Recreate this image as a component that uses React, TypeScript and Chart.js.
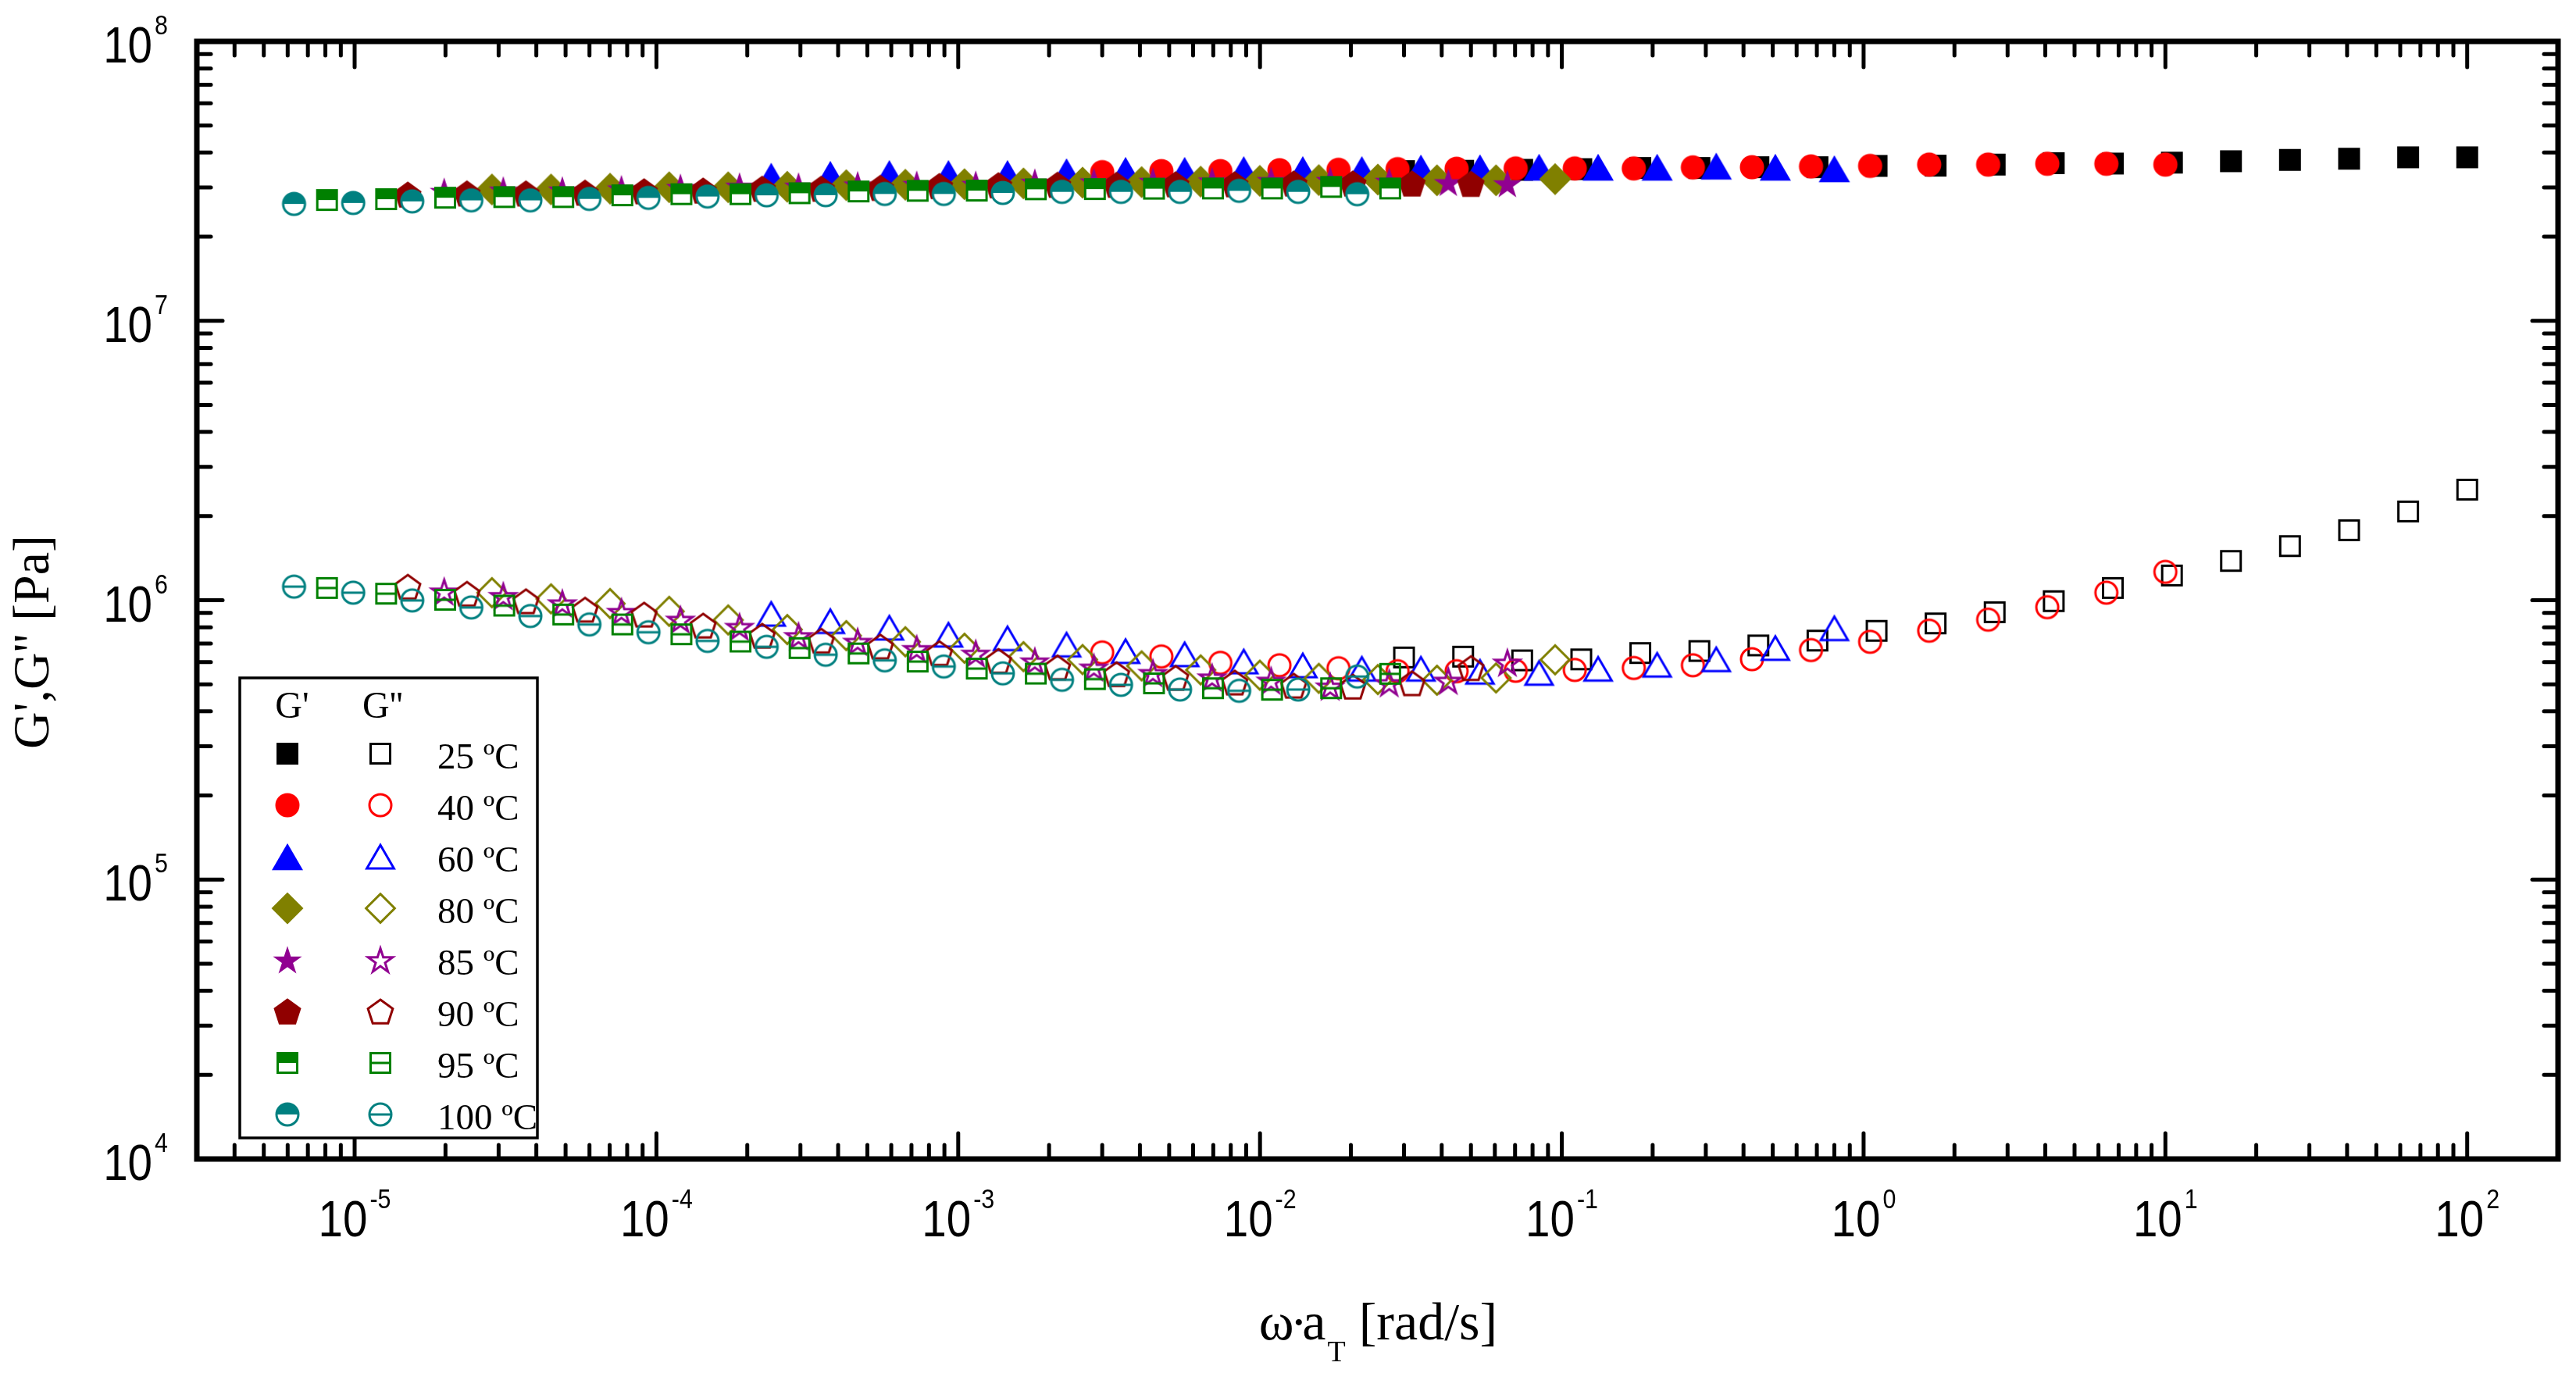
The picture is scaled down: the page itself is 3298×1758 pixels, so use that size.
import React, { useEffect, useRef } from "react";
import { Chart, registerables } from "chart.js";

Chart.register(...registerables);

// angular frequency of the sweep in rad/s, the same 19 points at every temperature
const omega = [0.03, 0.0471, 0.0739, 0.116, 0.182, 0.2856, 0.4481, 0.7033, 1.104, 1.732, 2.718, 4.266, 6.694, 10.51, 16.49, 25.87, 40.61, 63.73, 100];

const temperatures = [25, 40, 60, 80, 85, 90, 95, 100];
// horizontal shift factor a_T (reference 25 ºC)
const shiftFactors = [1, 0.1, 8.0e-3, 9.5e-4, 6.6e-4, 5.0e-4, 2.7e-4, 2.1e-4];

// G' (storage modulus) in Pa, low to high frequency
const gp25 = [3.434e7, 3.443e7, 3.471e7, 3.491e7, 3.523e7, 3.523e7, 3.546e7, 3.546e7, 3.585e7, 3.592e7, 3.624e7, 3.666e7, 3.654e7, 3.683e7, 3.726e7, 3.767e7, 3.803e7, 3.847e7, 3.847e7];
const gp40 = [3.405e7, 3.434e7, 3.434e7, 3.46e7, 3.471e7, 3.491e7, 3.5e7, 3.51e7, 3.51e7, 3.51e7, 3.54e7, 3.546e7, 3.569e7, 3.585e7, 3.624e7, 3.624e7, 3.648e7, 3.648e7, 3.624e7];
const gp60 = [3.293e7, 3.344e7, 3.366e7, 3.366e7, 3.366e7, 3.416e7, 3.454e7, 3.454e7, 3.476e7, 3.476e7, 3.476e7, 3.521e7, 3.528e7, 3.546e7, 3.546e7, 3.546e7, 3.578e7, 3.546e7, 3.5e7];
const gp80 = [2.952e7, 2.952e7, 2.971e7, 3.005e7, 3.005e7, 3.018e7, 3.057e7, 3.069e7, 3.082e7, 3.102e7, 3.122e7, 3.136e7, 3.148e7, 3.168e7, 3.189e7, 3.203e7, 3.183e7, 3.183e7, 3.214e7];
const gp85 = [2.909e7, 2.94e7, 2.94e7, 2.971e7, 3.005e7, 3.037e7, 3.037e7, 3.069e7, 3.082e7, 3.082e7, 3.136e7, 3.148e7, 3.162e7, 3.172e7, 3.183e7, 3.183e7, 3.162e7, 3.128e7, 3.096e7];
const gp90 = [2.83e7, 2.858e7, 2.858e7, 2.877e7, 2.909e7, 2.927e7, 2.971e7, 2.971e7, 2.992e7, 3.037e7, 3.057e7, 3.069e7, 3.069e7, 3.082e7, 3.082e7, 3.102e7, 3.102e7, 3.102e7, 3.092e7];
const gp95 = [2.706e7, 2.724e7, 2.758e7, 2.772e7, 2.772e7, 2.812e7, 2.839e7, 2.839e7, 2.862e7, 2.903e7, 2.918e7, 2.923e7, 2.956e7, 2.961e7, 2.971e7, 2.975e7, 2.975e7, 3.014e7, 2.975e7];
const gp100 = [2.62e7, 2.641e7, 2.675e7, 2.698e7, 2.698e7, 2.731e7, 2.754e7, 2.785e7, 2.812e7, 2.817e7, 2.844e7, 2.844e7, 2.868e7, 2.894e7, 2.894e7, 2.894e7, 2.918e7, 2.894e7, 2.839e7];

// G'' (loss modulus) in Pa
const gpp25 = [6.24e5, 6.28e5, 6.09e5, 6.14e5, 6.47e5, 6.58e5, 6.89e5, 7.17e5, 7.77e5, 8.26e5, 9.06e5, 9.92e5, 1.106e6, 1.226e6, 1.382e6, 1.562e6, 1.781e6, 2.078e6, 2.488e6];
const gpp40 = [6.5e5, 6.29e5, 5.97e5, 5.85e5, 5.71e5, 5.57e5, 5.57e5, 5.59e5, 5.63e5, 5.72e5, 5.85e5, 6.15e5, 6.63e5, 7.1e5, 7.78e5, 8.52e5, 9.44e5, 1.064e6, 1.263e6];
const gpp60 = [8.93e5, 8.41e5, 7.97e5, 7.52e5, 7.3e5, 6.93e5, 6.57e5, 6.4e5, 6.03e5, 5.84e5, 5.68e5, 5.68e5, 5.54e5, 5.49e5, 5.68e5, 5.87e5, 6.14e5, 6.74e5, 7.93e5];
const gpp80 = [1.064e6, 1.011e6, 9.73e5, 9.12e5, 8.5e5, 7.85e5, 7.47e5, 7.1e5, 6.73e5, 6.28e5, 6.13e5, 5.82e5, 5.63e5, 5.39e5, 5.25e5, 5.2e5, 5.17e5, 5.27e5, 6.12e5];
const gpp85 = [1.076e6, 1.037e6, 9.76e5, 9.1e5, 8.53e5, 8.04e5, 7.45e5, 7.11e5, 6.7e5, 6.45e5, 6.05e5, 5.75e5, 5.5e5, 5.3e5, 5.16e5, 4.92e5, 5.06e5, 5.16e5, 5.99e5];
const gpp90 = [1.118e6, 1.055e6, 9.92e5, 9.26e5, 8.89e5, 8.12e5, 7.47e5, 7.17e5, 6.83e5, 6.47e5, 6.07e5, 5.75e5, 5.44e5, 5.28e5, 5.08e5, 4.95e5, 4.91e5, 5.05e5, 5.72e5];
const gpp95 = [1.106e6, 1.055e6, 1.004e6, 9.56e5, 8.89e5, 8.19e5, 7.55e5, 7.11e5, 6.74e5, 6.45e5, 6.03e5, 5.69e5, 5.46e5, 5.22e5, 5.04e5, 4.84e5, 4.78e5, 4.84e5, 5.45e5];
const gpp100 = [1.118e6, 1.064e6, 9.98e5, 9.42e5, 8.78e5, 8.19e5, 7.68e5, 7.15e5, 6.81e5, 6.38e5, 6.09e5, 5.79e5, 5.47e5, 5.19e5, 4.98e5, 4.79e5, 4.74e5, 4.79e5, 5.33e5];

const storage = [gp25, gp40, gp60, gp80, gp85, gp90, gp95, gp100];
const loss = [gpp25, gpp40, gpp60, gpp80, gpp85, gpp90, gpp95, gpp100];

const colors = ["#000000", "#ff0000", "#0000ff", "#808000", "#910091", "#900000", "#008000", "#008080"];
const shapes = ["square", "circle", "triangle", "diamond", "star", "pentagon", "halfSquare", "halfCircle"];

const xTickExponents = [-5, -4, -3, -2, -1, 0, 1, 2];
const yTickExponents = [4, 5, 6, 7, 8];

const SERIF = '"Liberation Serif", "Times New Roman", serif';
const SANS = '"Liberation Sans", Arial, sans-serif';

function markerPath(shape: string, m: number, inset: number): Path2D {
  const p = new Path2D();
  const poly = (pts: number[][], dy = 0) => {
    pts.forEach(([x, y], i) => (i ? p.lineTo(m + x, m + y + dy) : p.moveTo(m + x, m + y + dy)));
    p.closePath();
  };
  const radial = (n: number, outer: number, inner: number | null, dy: number) => {
    const pts: number[][] = [];
    const count = inner === null ? n : n * 2;
    for (let i = 0; i < count; i++) {
      const a = -Math.PI / 2 + (i * 2 * Math.PI) / count;
      const r = inner === null || i % 2 === 0 ? outer : inner;
      pts.push([Math.cos(a) * r, Math.sin(a) * r]);
    }
    poly(pts, dy);
  };
  switch (shape) {
    case "square":
    case "halfSquare": {
      const h = 14 - inset;
      p.rect(m - h, m - h, 2 * h, 2 * h);
      break;
    }
    case "circle":
    case "halfCircle":
      p.arc(m, m, 15.5 - inset, 0, Math.PI * 2);
      break;
    case "triangle": {
      const k = 1 - inset / 11.5;
      poly([[0, -17.3 * k], [20 * k, 17.3 * k], [-20 * k, 17.3 * k]]);
      break;
    }
    case "diamond": {
      const r = 20.5 - inset * 1.41;
      poly([[0, -r], [r, 0], [0, r], [-r, 0]]);
      break;
    }
    case "star": {
      const R = 19.5 - inset * 2;
      radial(5, R, R * 0.382, 1.8);
      break;
    }
    case "pentagon": {
      const R = 18.5 - inset * 1.2;
      radial(5, R, null, 1.7);
      break;
    }
  }
  return p;
}

function makeMarker(shape: string, color: string, filled: boolean): HTMLCanvasElement {
  const box = 50;
  const c = document.createElement("canvas");
  c.width = box;
  c.height = box;
  const g = c.getContext("2d")!;
  const m = box / 2;
  const lw = 3;
  g.lineWidth = lw;
  g.strokeStyle = color;
  g.fillStyle = color;
  g.lineJoin = "miter";
  if (shape === "halfSquare" || shape === "halfCircle") {
    const full = markerPath(shape, m, lw / 2);
    const h = shape === "halfSquare" ? 14 - lw / 2 : 15.5 - lw / 2;
    if (filled) {
      g.fillStyle = "#ffffff";
      g.fill(full);
      g.save();
      g.beginPath();
      g.rect(0, 0, box, m);
      g.clip();
      g.fillStyle = color;
      g.fill(full);
      g.restore();
      g.stroke(full);
    } else {
      g.stroke(full);
      g.beginPath();
      g.moveTo(m - h, m);
      g.lineTo(m + h, m);
      g.stroke();
    }
    return c;
  }
  if (filled) g.fill(markerPath(shape, m, 0));
  else g.stroke(markerPath(shape, m, lw / 2));
  return c;
}

// "10" with a raised exponent, narrowed a little like the original typeface
function drawPower(ctx: CanvasRenderingContext2D, exp: number, anchorX: number, baseline: number, align: "center" | "right") {
  const sx = 0.87;
  const base = "10";
  const sup = String(exp);
  ctx.font = `65px ${SANS}`;
  const wBase = ctx.measureText(base).width * sx;
  ctx.font = `35px ${SANS}`;
  const wSup = ctx.measureText(sup).width * sx;
  const total = wBase + 3 + wSup;
  const left = align === "center" ? anchorX - total / 2 : anchorX - total;
  ctx.textAlign = "left";
  ctx.textBaseline = "alphabetic";
  ctx.save();
  ctx.translate(left, baseline);
  ctx.scale(sx, 1);
  ctx.font = `65px ${SANS}`;
  ctx.fillText(base, 0, 0);
  ctx.restore();
  ctx.save();
  ctx.translate(left + wBase + 3, baseline - 36);
  ctx.scale(sx, 1);
  ctx.font = `35px ${SANS}`;
  ctx.fillText(sup, 0, 0);
  ctx.restore();
}

const App: React.FC = () => {
  const chartRef = useRef<HTMLCanvasElement | null>(null);
  const chartInstance = useRef<Chart | null>(null);

  useEffect(() => {
    if (!chartRef.current) return;
    const ctx = chartRef.current.getContext("2d");
    if (!ctx) return;

    const markers = temperatures.map((_, i) => ({
      filled: makeMarker(shapes[i], colors[i], true),
      open: makeMarker(shapes[i], colors[i], false),
    }));

    const datasets: any[] = [];
    temperatures.forEach((t, i) => {
      datasets.push({
        label: `G' ${t} ºC`,
        data: omega.map((w, k) => ({ x: w * shiftFactors[i], y: storage[i][k] })),
        pointStyle: markers[i].filled,
        pointRadius: 15,
        pointHoverRadius: 15,
        showLine: false,
        clip: false,
        order: (7 - i) * 2 + 1,
      });
      datasets.push({
        label: `G'' ${t} ºC`,
        data: omega.map((w, k) => ({ x: w * shiftFactors[i], y: loss[i][k] })),
        pointStyle: markers[i].open,
        pointRadius: 15,
        pointHoverRadius: 15,
        showLine: false,
        clip: false,
        order: (7 - i) * 2,
      });
    });

    // inward ticks on all four sides, the frame, tick labels and axis titles
    const framePlugin = {
      id: "frame",
      afterDatasetsDraw(chart: any) {
        const { ctx: c, chartArea: a, scales } = chart;
        const xs = scales.x;
        const ys = scales.y;
        c.save();
        c.strokeStyle = "#000";
        c.lineCap = "round";
        c.lineWidth = 5;
        const seg = (x1: number, y1: number, x2: number, y2: number) => {
          c.beginPath();
          c.moveTo(x1, y1);
          c.lineTo(x2, y2);
          c.stroke();
        };
        for (let e = -6; e <= 2; e++) {
          for (let k = 1; k <= 9; k++) {
            const px = xs.getPixelForValue(k * Math.pow(10, e));
            if (px < a.left + 4 || px > a.right - 4) continue;
            const len = k === 1 ? 33 : 18;
            seg(px, a.bottom, px, a.bottom - len);
            seg(px, a.top, px, a.top + len);
          }
        }
        for (let e = 4; e <= 8; e++) {
          for (let k = 1; k <= 9; k++) {
            const py = ys.getPixelForValue(k * Math.pow(10, e));
            if (py < a.top + 4 || py > a.bottom - 4) continue;
            const len = k === 1 ? 33 : 18;
            seg(a.left, py, a.left + len, py);
            seg(a.right, py, a.right - len, py);
          }
        }
        c.lineCap = "butt";
        c.lineJoin = "miter";
        c.lineWidth = 7;
        c.strokeRect(a.left, a.top, a.right - a.left, a.bottom - a.top);

        c.fillStyle = "#000";
        xTickExponents.forEach((e) => drawPower(c, e, xs.getPixelForValue(Math.pow(10, e)), a.bottom + 99, "center"));
        yTickExponents.forEach((e) => drawPower(c, e, a.left - 37, ys.getPixelForValue(Math.pow(10, e)) + 27, "right"));

        // x title: ω·a_T [rad/s], the dot set tight between ω and a
        const big = `68px ${SERIF}`;
        const small = `38px ${SERIF}`;
        c.font = big;
        const wOmega = c.measureText("ω").width;
        const wDot = c.measureText("·").width;
        const wA = c.measureText("a").width;
        const w3 = c.measureText(" [rad/s]").width;
        c.font = small;
        const w2 = c.measureText("T").width;
        const w1 = wOmega - 5 + wDot - 7 + wA;
        let tx = (a.left + a.right) / 2 - (w1 + w2 + w3) / 2;
        const tb = a.bottom + 231;
        c.textAlign = "left";
        c.font = big;
        c.fillText("ω", tx, tb);
        tx += wOmega - 5;
        c.fillText("·", tx, tb);
        tx += wDot - 7;
        c.fillText("a", tx, tb);
        tx += wA + 2;
        c.font = small;
        c.fillText("T", tx, tb + 28);
        tx += w2;
        c.font = big;
        c.fillText(" [rad/s]", tx, tb);

        // y title
        c.save();
        c.translate(62, 822);
        c.rotate(-Math.PI / 2);
        c.textAlign = "center";
        c.font = `66px ${SERIF}`;
        c.fillText("G',G'' [Pa]", 0, 0);
        c.restore();
        c.restore();
      },
    };

    const legendPlugin = {
      id: "tempLegend",
      afterDraw(chart: any) {
        const { ctx: c, chartArea: a } = chart;
        const left = a.left + 55;
        const bottom = a.bottom - 27;
        const w = 381;
        const h = 589;
        const top = bottom - h;
        c.save();
        c.fillStyle = "#fff";
        c.fillRect(left, top, w, h);
        c.lineWidth = 3.5;
        c.strokeStyle = "#000";
        c.strokeRect(left, top, w, h);
        c.fillStyle = "#000";
        c.textBaseline = "alphabetic";
        c.textAlign = "center";
        c.font = `48px ${SERIF}`;
        c.fillText("G'", left + 67, top + 51);
        c.fillText("G''", left + 183, top + 51);
        c.textAlign = "left";
        c.font = `47px ${SERIF}`;
        temperatures.forEach((t, i) => {
          const cy = top + 97 + i * 66;
          const f = markers[i].filled;
          const o = markers[i].open;
          c.drawImage(f, left + 61 - f.width / 2, cy - f.height / 2);
          c.drawImage(o, left + 180 - o.width / 2, cy - o.height / 2);
          c.fillText(`${t} ºC`, left + 253, cy + 19);
        });
        c.restore();
      },
    };

    chartInstance.current = new Chart(ctx, {
      type: "scatter",
      data: { datasets },
      options: {
        animation: false,
        responsive: false,
        devicePixelRatio: 1,
        layout: { padding: { top: 53, right: 23, left: 0, bottom: 0 } },
        plugins: { legend: { display: false }, tooltip: { enabled: false } },
        scales: {
          x: {
            type: "logarithmic",
            min: 3e-6,
            max: 200,
            grid: { display: false },
            border: { display: false },
            ticks: { display: false },
            afterFit: (s: any) => {
              s.height = 274;
            },
          },
          y: {
            type: "logarithmic",
            min: 1e4,
            max: 1e8,
            grid: { display: false },
            border: { display: false },
            ticks: { display: false },
            afterFit: (s: any) => {
              s.width = 252;
            },
          },
        },
      },
      plugins: [framePlugin, legendPlugin],
    });

    return () => {
      if (chartInstance.current) {
        chartInstance.current.destroy();
        chartInstance.current = null;
      }
    };
  }, []);

  return (
    <div style={{ position: "fixed", left: 0, top: 0, width: 3298, height: 1758, background: "#fff" }}>
      <canvas ref={chartRef} width={3298} height={1758} style={{ display: "block" }} />
    </div>
  );
};

export default App;
